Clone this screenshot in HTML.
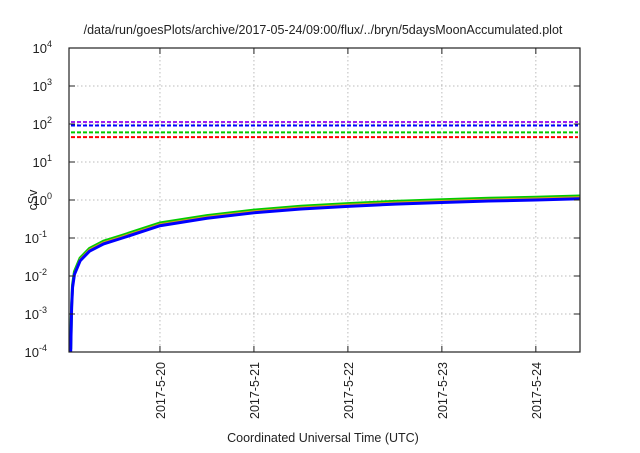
<!DOCTYPE html>
<html><head><meta charset="utf-8"><style>
body{margin:0;background:#fff;}
svg text{font-family:"Liberation Sans",sans-serif;fill:#222;}
</style></head><body>
<svg width="640" height="448" viewBox="0 0 640 448">
<rect width="640" height="448" fill="#fff"/>
<text x="323" y="34" font-size="12.5" text-anchor="middle">/data/run/goesPlots/archive/2017-05-24/09:00/flux/../bryn/5daysMoonAccumulated.plot</text>
<text transform="translate(37,200) rotate(-90)" font-size="12.5" text-anchor="middle">cSv</text>
<text x="323" y="442" font-size="12.5" text-anchor="middle">Coordinated Universal Time (UTC)</text>
<g id="grid"></g><g id="lines"></g><g id="axes"></g>
</svg>
<script>
const yExps=[4,3,2,1,0,-1,-2,-3,-4];
const xTickDays=[1,2,3,4,5];
const xTickLabels=["2017-5-20","2017-5-21","2017-5-22","2017-5-23","2017-5-24"];
const thresholds=[113,91,60,45];
const thresholdColors=["#a020f0","#0000ff","#00cc00","#ff0000"];
const tDays=[0.05,0.055,0.06,0.07,0.09,0.15,0.25,0.4,0.6,1.0,1.5,2,2.5,3,3.5,4,4.5,5,5.47];
const blueVals=[1e-4,4e-4,1.5e-3,5e-3,1.1e-2,0.025,0.045,0.07,0.1,0.21,0.33,0.46,0.58,0.68,0.78,0.86,0.94,1.0,1.08];
const greenVals=blueVals.map(v=>v*1.18);
const orangeVals=blueVals.map(v=>v*1.1);
const L=69,R=580,T=48,B=352,d0=0.032,d1=5.47;
const xs=d=>L+(d-d0)/(d1-d0)*(R-L);
const ys=v=>B-(Math.log10(v)+4)/8*(B-T);
const NS="http://www.w3.org/2000/svg";
function mk(tag,at,parent){const e=document.createElementNS(NS,tag);for(const k in at)e.setAttribute(k,at[k]);document.getElementById(parent).appendChild(e);return e;}
yExps.forEach(ex=>{const y=ys(Math.pow(10,ex));
 if(ex<4&&ex>-4){const g=mk('line',{x1:L,x2:R,y1:y,y2:y,stroke:'#bbb','stroke-dasharray':'1.5,2.5','stroke-width':1},'grid');}
 const t=mk('text',{x:L-24,y:y+5,'font-size':13,'text-anchor':'end'},'axes');
 t.textContent='10';const s=document.createElementNS(NS,'tspan');s.setAttribute('font-size','9');s.setAttribute('dy','-6');s.textContent=String(ex);t.appendChild(s);
 t.setAttribute('x',L-8-(ex<0?14:9));
 const tk=mk('line',{x1:L,x2:L+6,y1:y,y2:y,stroke:'#222'},'axes');
 const tk2=mk('line',{x1:R-6,x2:R,y1:y,y2:y,stroke:'#222'},'axes');
});
xTickDays.forEach((d,i)=>{const x=xs(d);
 const g=mk('line',{x1:x,x2:x,y1:T,y2:B,stroke:'#bbb','stroke-dasharray':'1.5,2.5'},'grid');
 const tk=mk('line',{x1:x,x2:x,y1:B-6,y2:B,stroke:'#222'},'axes');
 const tk2=mk('line',{x1:x,x2:x,y1:T,y2:T+6,stroke:'#222'},'axes');
 const t=mk('text',{transform:`translate(${x+5},${B+10}) rotate(-90)`,'font-size':12.5,'text-anchor':'end'},'axes');t.textContent=xTickLabels[i];
});
thresholds.forEach((v,i)=>{const y=ys(v);const l=mk('line',{x1:L+2,x2:R-2,y1:y,y2:y,stroke:thresholdColors[i],'stroke-width':2,'stroke-dasharray':'4,2'},'lines');});
function series(vals,col,w,name){const p=mk('polyline',{points:tDays.map((d,i)=>xs(d)+','+ys(vals[i])).join(' '),fill:'none',stroke:col,'stroke-width':w},'lines');}
series(greenVals,'#00cc00',3,'series-green');
series(orangeVals,'#d4a017',2,'series-orange');
series(blueVals,'#0000ff',3,'series-blue');
const fr=mk('rect',{x:L,y:T,width:R-L,height:B-T,fill:'none',stroke:'#222','stroke-width':1.2},'axes');
</script>
</body></html>
